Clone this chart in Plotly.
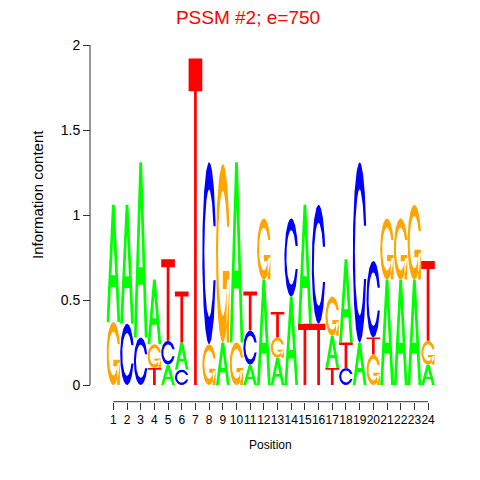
import numpy as np
import plotly.graph_objects as go

# ---- data: letter stacks per position, listed bottom -> top ----
positions = list(range(1, 25))
stack_letters = [
    "GA", "CA", "CA", "TGA", "ACT", "CAT", "T", "GC", "AG", "GA",
    "ACT", "AG", "AGT", "AC", "TA", "TC", "TAG", "CTA", "AC", "GTC",
    "AG", "AG", "AG", "AGT",
]
stack_heights = [
    [0.37, 0.69], [0.36, 0.70], [0.28, 1.03], [0.10, 0.14, 0.38],
    [0.12, 0.14, 0.48], [0.09, 0.16, 0.30], [1.92], [0.24, 1.07],
    [0.25, 1.05], [0.25, 1.06], [0.12, 0.20, 0.23], [0.62, 0.36],
    [0.16, 0.12, 0.15], [0.52, 0.46], [0.36, 0.70], [0.36, 0.70],
    [0.10, 0.19, 0.23], [0.10, 0.15, 0.49], [0.25, 1.06], [0.18, 0.10, 0.45],
    [0.62, 0.36], [0.62, 0.36], [0.62, 0.44], [0.12, 0.14, 0.47],
]
y_ticks = [0, 0.5, 1, 1.5, 2]
y_tick_labels = ["0", "0.5", "1", "1.5", "2"]
title_text = "PSSM #2; e=750"
colors = {"A": "#00FF00", "C": "#0000FF", "G": "#FFA500", "T": "#FF0000"}

# ---- glyph outlines in a unit box ----
def glyph_A():
    outer = (np.array([0, 4, 6, 10, 8, 6.8, 3.2, 2, 0]) / 10,
             np.array([0, 10, 10, 0, 0, 3, 3, 0, 0]) / 10)
    hole = (np.array([3.6, 5, 6.4, 3.6]) / 10, np.array([4, 7.5, 4, 4]) / 10)
    return [outer], [hole]

def glyph_T():
    return [(np.array([0, 10, 10, 6, 6, 4, 4, 0, 0]) / 10,
             np.array([10, 10, 9, 9, 0, 0, 9, 9, 10]) / 10)], []

def c_shape():
    a1 = np.linspace(0.3 + np.pi / 2, np.pi, 100)
    a2 = np.linspace(np.pi, 1.5 * np.pi, 100)
    xl1, yl1 = 0.5 + 0.5 * np.sin(a1), 0.5 + 0.5 * np.cos(a1)
    xl2, yl2 = 0.5 + 0.5 * np.sin(a2), 0.5 + 0.5 * np.cos(a2)
    xl = np.concatenate([xl1, xl2]); yl = np.concatenate([yl1, yl2])
    x = np.concatenate([xl, xl[::-1]]); y = np.concatenate([yl, 1 - yl[::-1]])
    xi1, yi1 = 0.5 + 0.35 * np.sin(a1), 0.5 + 0.35 * np.cos(a1)
    keep = yi1 <= yl1.max()
    xi1, yi1 = xi1[keep], yi1[keep].copy()
    yi1[0] = yl1.max()
    xi2, yi2 = 0.5 + 0.35 * np.sin(a2), 0.5 + 0.35 * np.cos(a2)
    xi = np.concatenate([xi1, xi2]); yi = np.concatenate([yi1, yi2])
    x1 = np.concatenate([xi, xi[::-1]]); y1 = np.concatenate([yi, 1 - yi[::-1]])
    x = np.concatenate([x, x1[::-1]]); y = np.concatenate([y, y1[::-1]])
    return x, y, xl1.max()

def glyph_C():
    x, y, _ = c_shape()
    return [(x, y)], []

def glyph_G():
    x, y, r1 = c_shape()
    h1 = 0.4
    xa = np.array([r1, 0.5, 0.5, r1 - 0.2, r1 - 0.2, r1, r1])
    ya = np.array([h1, h1, h1 - 0.1, h1 - 0.1, 0, 0, h1])
    return [(x, y), (xa, ya)], []

glyphs = {"A": glyph_A(), "C": glyph_C(), "G": glyph_G(), "T": glyph_T()}

paths = {k: ([], []) for k in "ACGT"}
holes = ([], [])
for pos, letters, heights in zip(positions, stack_letters, stack_heights):
    base = 0.0
    for L, h in zip(letters, heights):
        parts, hls = glyphs[L]
        for gx, gy in parts:
            paths[L][0].extend(list(pos - 0.5 + gx) + [None])
            paths[L][1].extend(list(base + h * gy) + [None])
        for gx, gy in hls:
            holes[0].extend(list(pos - 0.5 + gx) + [None])
            holes[1].extend(list(base + h * gy) + [None])
        base += h

fig = go.Figure()
for L in "ACGT":
    fig.add_trace(go.Scatter(x=paths[L][0], y=paths[L][1], mode="lines",
                             fill="toself", fillcolor=colors[L],
                             line=dict(width=0, color=colors[L]),
                             hoverinfo="skip", showlegend=False))
fig.add_trace(go.Scatter(x=holes[0], y=holes[1], mode="lines", fill="toself",
                         fillcolor="white", line=dict(width=0, color="white"),
                         hoverinfo="skip", showlegend=False))

W = H = 480.0
OFF = 8.0  # page offset of the figure inside the browser window


def px(x):
    return (x - OFF) / W


def py(y):
    return 1 - (y - OFF) / H


x_dom = [px(106.5), px(434.9)]
y_dom = [py(401.7), py(45)]
yaxis_pos = px(90)
font = "Liberation Sans, Arial, Helvetica, sans-serif"

fig.update_layout(
    width=480, height=480, autosize=False,
    margin=dict(l=0, r=0, t=0, b=0, autoexpand=False),
    paper_bgcolor="white", plot_bgcolor="white",
    font=dict(family=font, color="black"),
    title=dict(text=title_text, x=0.5, xanchor="center", y=py(11),
               yanchor="top", xref="paper", yref="container",
               pad=dict(t=0, b=0, l=0, r=0),
               font=dict(size=19, color="#FF0000", family=font)),
    xaxis=dict(domain=x_dom, range=[0.5, 24.5], tickmode="array",
               tickvals=positions, ticktext=[str(p) for p in positions],
               ticks="outside", ticklen=7, tickcolor="#333", tickwidth=1,
               tickangle=0, automargin=False,
               showline=False, showgrid=False, zeroline=False,
               tickfont=dict(size=12, family=font), anchor="y"),
    yaxis=dict(domain=y_dom, range=[(385 - 401.7) / 170, 2.0], tickmode="array",
               tickvals=y_ticks, ticktext=y_tick_labels, ticks="outside",
               ticklen=7, tickcolor="#333", tickwidth=1, showline=False,
               showgrid=False, zeroline=False, anchor="free", position=yaxis_pos,
               automargin=False, tickfont=dict(size=14, family=font)),
    shapes=[
        dict(type="line", xref="paper", yref="y", x0=yaxis_pos, x1=yaxis_pos,
             y0=0, y1=2, line=dict(color="#333", width=1)),
        dict(type="line", xref="x", yref="paper", x0=1, x1=24,
             y0=y_dom[0], y1=y_dom[0], line=dict(color="#333", width=1)),
    ],
    annotations=[
        dict(text="Position", xref="x", yref="paper", x=12.5, y=py(445),
             xanchor="center", yanchor="middle", showarrow=False,
             font=dict(size=12, family=font)),
        dict(text="Information content", xref="paper", yref="paper",
             x=px(37), y=py(195), xanchor="center", yanchor="middle",
             textangle=-90, showarrow=False, font=dict(size=15, family=font)),
    ],
)

fig.write_html("out.html")
